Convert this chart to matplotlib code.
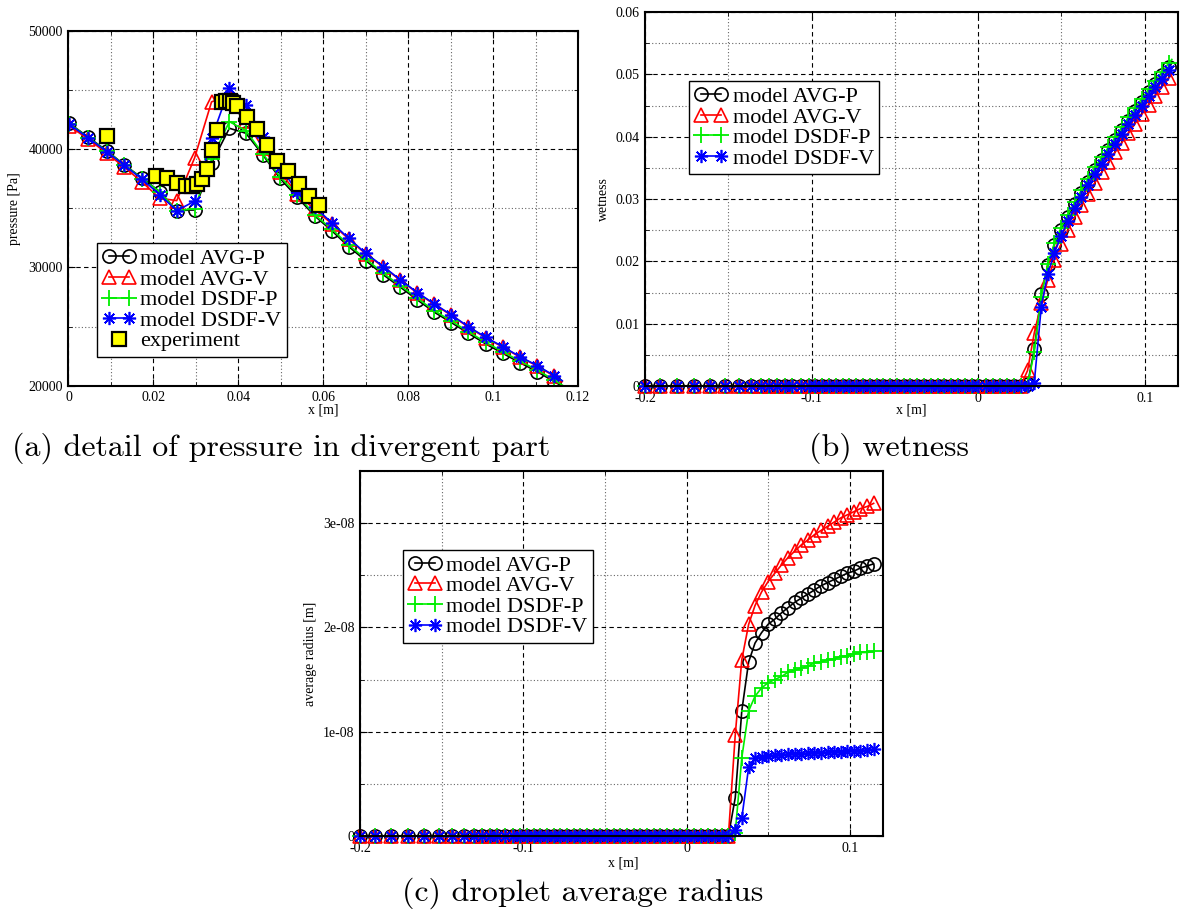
import numpy as np
import matplotlib
matplotlib.use('Agg')
import matplotlib.pyplot as plt
from matplotlib.ticker import MultipleLocator, FuncFormatter
from matplotlib.legend_handler import HandlerLine2D

# --------- DATA ----------
# grid points: converging part (non-uniform), straight part, divergent part
x_conv = [-0.2, -0.191, -0.181, -0.1706, -0.1608, -0.1518, -0.1437, -0.1363,
          -0.1302, -0.1253, -0.1206, -0.116, -0.1115, -0.1065]
x_mid = [-0.1018, -0.0977, -0.0936, -0.0896, -0.0855, -0.0814, -0.0773, -0.0732,
         -0.0692, -0.0651, -0.061, -0.0569, -0.0528, -0.0488, -0.0447, -0.0406,
         -0.0365, -0.0324, -0.0284, -0.0243, -0.0202, -0.0161, -0.012, -0.008,
         -0.0039]
# last value is the outlet (line only, no marker)
x_div = [0.0002, 0.0047, 0.009, 0.0131, 0.0174, 0.0215, 0.0255, 0.0297, 0.0337,
         0.0379, 0.0418, 0.0458, 0.0498, 0.0539, 0.058, 0.062, 0.066, 0.070,
         0.0742, 0.0782, 0.0822, 0.0862, 0.0902, 0.0942, 0.0983, 0.1023, 0.1063,
         0.1104, 0.1144, 0.1163]

# (a) pressure [Pa] on x_div
p_avg_p = [42190, 41007, 39879, 38695, 37539, 36411, 34804, 34860, 38808, 41768,
           41345, 39512, 37539, 35932, 34353, 33113, 31760, 30575, 29363, 28320,
           27249, 26206, 25332, 24430, 23528, 22737, 21948, 21187, 20341, 19950]
p_avg_v = [41950, 40850, 39650, 38500, 37200, 35850, 35650, 39250, 44000, 44550,
           42400, 40100, 38100, 36200, 34900, 33700, 32400, 31150, 30020, 28900,
           27830, 26870, 25940, 24950, 24050, 23260, 22420, 21660, 20800, 20350]
p_dsdf_p = [42150, 40980, 39850, 38680, 37520, 36390, 34800, 34950, 39150, 42330,
            41570, 39600, 37680, 36130, 34440, 33250, 31900, 30720, 29500, 28450,
            27380, 26340, 25460, 24560, 23660, 22870, 22080, 21320, 20480, 20050]
p_dsdf_v = [42100, 40950, 39800, 38650, 37450, 36150, 34800, 35600, 40920, 45150,
            43740, 41010, 38530, 36410, 35100, 33790, 32460, 31200, 30070, 28940,
            27870, 26910, 25980, 24990, 24090, 23300, 22460, 21700, 20850, 20420]

x_exp = [0.009, 0.0206, 0.0231, 0.0255, 0.0278, 0.029, 0.0302, 0.0314, 0.0327,
         0.0337, 0.0349, 0.0361, 0.0371, 0.038, 0.0388, 0.0398, 0.0421, 0.0445,
         0.0468, 0.0492, 0.0518, 0.0542, 0.0567, 0.059]
p_exp = [41120, 37730, 37540, 37110, 36910, 36920, 37060, 37450, 38330, 39930,
         41620, 43970, 44100, 44100, 43900, 43680, 42750, 41680, 40350, 39030,
         38180, 37060, 36070, 35280]

# (b) wetness, zero up to x = 0.0255, values from x = 0.0297 to the outlet
N_DRY = len(x_conv) + len(x_mid) + 7
w_avg_p = [0.0003, 0.0059, 0.0147, 0.0194, 0.0227, 0.0251, 0.0272, 0.0292, 0.031,
           0.0328, 0.0347, 0.0363, 0.0379, 0.0395, 0.041, 0.0426, 0.0441, 0.0456,
           0.0471, 0.0485, 0.0499, 0.0512, 0.0518]
w_avg_v = [0.0025, 0.0085, 0.0133, 0.017, 0.0203, 0.0228, 0.025, 0.0271, 0.029,
           0.0308, 0.0326, 0.0343, 0.0359, 0.0375, 0.039, 0.0406, 0.0421, 0.0436,
           0.0451, 0.0466, 0.048, 0.0494, 0.05]
w_dsdf_p = [0.0001, 0.0055, 0.0143, 0.0196, 0.0229, 0.0254, 0.0275, 0.0295, 0.0314,
            0.0332, 0.0351, 0.0367, 0.0383, 0.0399, 0.0415, 0.0431, 0.0446, 0.0461,
            0.0476, 0.049, 0.0504, 0.0518, 0.0524]
w_dsdf_v = [0.0, 0.0005, 0.0127, 0.018, 0.0213, 0.0241, 0.0264, 0.0285, 0.0304,
            0.0322, 0.034, 0.0357, 0.0373, 0.0389, 0.0404, 0.042, 0.0435, 0.045,
            0.0465, 0.0479, 0.0493, 0.0507, 0.0513]

# (c) average radius [1e-8 m], from x = 0.0297 to x = 0.1144
r_avg_p = [0.367, 1.20, 1.67, 1.85, 1.95, 2.03, 2.08, 2.14, 2.19, 2.24, 2.28, 2.32,
           2.36, 2.40, 2.43, 2.46, 2.49, 2.52, 2.54, 2.57, 2.59, 2.61]
r_avg_v = [0.97, 1.69, 2.03, 2.21, 2.34, 2.44, 2.52, 2.60, 2.67, 2.73, 2.79, 2.84,
           2.89, 2.93, 2.97, 3.01, 3.05, 3.08, 3.11, 3.14, 3.16, 3.19]
r_dsdf_p = [0.03, 0.75, 1.20, 1.34, 1.42, 1.47, 1.50, 1.53, 1.57, 1.59, 1.61, 1.63,
            1.66, 1.67, 1.69, 1.70, 1.72, 1.73, 1.75, 1.76, 1.76, 1.77]
r_dsdf_v = [0.06, 0.17, 0.66, 0.75, 0.76, 0.77, 0.775, 0.78, 0.785, 0.79, 0.79,
            0.795, 0.80, 0.80, 0.805, 0.81, 0.81, 0.815, 0.82, 0.82, 0.825, 0.83]

LABELS = ["model AVG-P", "model AVG-V", "model DSDF-P", "model DSDF-V"]
# --------------------------

SERIF = ['Liberation Serif', 'DejaVu Serif']
plt.rcParams['font.family'] = SERIF
plt.rcParams['axes.unicode_minus'] = False

STYLES = [
    dict(color='black', marker='o', mfc='none', ms=9.5, mew=1.2),
    dict(color='red', marker='^', mfc='none', ms=10, mew=1.2),
    dict(color='#00ee00', marker='+', ms=12, mew=1.3),
    dict(color='blue', marker=(8, 2, 0), ms=9.5, mew=1.2),
]

fig = plt.figure(figsize=(11.8, 9.15), dpi=100)
ax_a = fig.add_axes([0.058, 0.5785, 0.4318, 0.3877])
ax_b = fig.add_axes([0.5466, 0.5781, 0.4517, 0.4087])
ax_c = fig.add_axes([0.3051, 0.0863, 0.443, 0.3989])


def gfmt(v, _pos):
    return "%g" % v


def style_axes(ax, xmaj, xmin, ymaj, ymin):
    ax.xaxis.set_major_locator(MultipleLocator(xmaj))
    ax.xaxis.set_minor_locator(MultipleLocator(xmin))
    ax.yaxis.set_major_locator(MultipleLocator(ymaj))
    ax.yaxis.set_minor_locator(MultipleLocator(ymin))
    ax.xaxis.set_major_formatter(FuncFormatter(gfmt))
    ax.yaxis.set_major_formatter(FuncFormatter(gfmt))
    ax.grid(True, which='major', color='black', ls=(0, (4, 3)), lw=0.8)
    ax.grid(True, which='minor', color='#666666', ls=(0, (1, 2)), lw=0.8)
    ax.set_axisbelow(True)
    ax.tick_params(which='both', direction='in', top=True, right=True,
                   labelsize=10, color='black')
    ax.tick_params(axis='x', pad=4)
    ax.tick_params(axis='y', pad=4)
    ax.tick_params(which='major', length=5)
    ax.tick_params(which='minor', length=3)
    for s in ax.spines.values():
        s.set_linewidth(1.5)


def add_legend(ax, handles, labels, x0, ytop, exp_handle=None):
    hmap = {}
    if exp_handle is not None:
        hmap[exp_handle] = HandlerLine2D(numpoints=1)
    leg = ax.legend(handles, labels, loc='upper left', bbox_to_anchor=(x0, ytop),
                    borderaxespad=0, fontsize=16, numpoints=2, handlelength=1.5,
                    handletextpad=0.2, labelspacing=0.0, borderpad=0.25,
                    fancybox=False, framealpha=1, edgecolor='black',
                    handler_map=hmap)
    leg.get_frame().set_linewidth(1.0)
    leg.set_zorder(10)
    return leg


# ---- (a) pressure in divergent part ----
p_series = [p_avg_p, p_avg_v, p_dsdf_p, p_dsdf_v]
handles_a = []
for ys, st, lab in zip(p_series, STYLES, LABELS):
    h, = ax_a.plot(x_div, ys, lw=1.2, markevery=slice(0, len(x_div) - 1),
                   label=lab, **st)
    handles_a.append(h)
h_exp, = ax_a.plot(x_exp, p_exp, ls='none', marker='s', ms=9.5, mfc='#ffff00',
                   mec='black', mew=1.6, label='experiment', zorder=5)
handles_a.append(h_exp)
ax_a.set_xlim(0, 0.12)
ax_a.set_ylim(20000, 50000)
style_axes(ax_a, 0.02, 0.01, 10000, 5000)
ax_a.set_xlabel("x [m]", fontsize=10)
ax_a.set_ylabel("pressure [Pa]", fontsize=10)
ax_a.xaxis.set_label_coords(0.5, -0.05)
ax_a.yaxis.set_label_coords(-0.093, 0.5)
add_legend(ax_a, handles_a, LABELS + ['experiment'], 0.056, 0.402, h_exp)

# ---- (b) wetness ----
x_full = x_conv + x_mid + x_div
w_series = [w_avg_p, w_avg_v, w_dsdf_p, w_dsdf_v]
handles_b = []
for ys, st, lab in zip(w_series, STYLES, LABELS):
    y_full = [0.0] * N_DRY + ys
    h, = ax_b.plot(x_full, y_full, lw=1.2, markevery=slice(0, len(x_full) - 1),
                   clip_on=False, **st)
    handles_b.append(h)
ax_b.set_xlim(-0.2, 0.12)
ax_b.set_ylim(0, 0.06)
style_axes(ax_b, 0.1, 0.05, 0.01, 0.005)
ax_b.set_xlabel("x [m]", fontsize=10)
ax_b.set_ylabel("wetness", fontsize=10)
ax_b.xaxis.set_label_coords(0.5, -0.048)
ax_b.yaxis.set_label_coords(-0.066, 0.5)
add_legend(ax_b, handles_b, LABELS, 0.083, 0.816)

# ---- (c) droplet average radius ----
x_c = x_conv + x_mid + x_div[:-1]
r_series = [r_avg_p, r_avg_v, r_dsdf_p, r_dsdf_v]
handles_c = []
for ys, st, lab in zip(r_series, STYLES, LABELS):
    y_full = [0.0] * N_DRY + [v * 1e-8 for v in ys]
    h, = ax_c.plot(x_c, y_full, lw=1.2, clip_on=False, **st)
    handles_c.append(h)
ax_c.set_xlim(-0.2, 0.12)
ax_c.set_ylim(0, 3.5e-8)
style_axes(ax_c, 0.1, 0.05, 1e-8, 5e-9)
ax_c.set_xlabel("x [m]", fontsize=10)
ax_c.set_ylabel("average radius [m]", fontsize=10)
ax_c.xaxis.set_label_coords(0.503, -0.055)
ax_c.yaxis.set_label_coords(-0.082, 0.5)
add_legend(ax_c, handles_c, LABELS, 0.082, 0.785)

# ---- captions ----
CAP = dict(fontsize=23, family=['cmr10', 'DejaVu Serif'], ha='center', va='center')
fig.text(281 / 1180, 1 - 448 / 915, "(a) detail of pressure in divergent part", **CAP)
fig.text(889 / 1180, 1 - 448 / 915, "(b) wetness", **CAP)
fig.text(583 / 1180, 1 - 893 / 915, "(c) droplet average radius", **CAP)

fig.savefig("out.png", dpi=100)
